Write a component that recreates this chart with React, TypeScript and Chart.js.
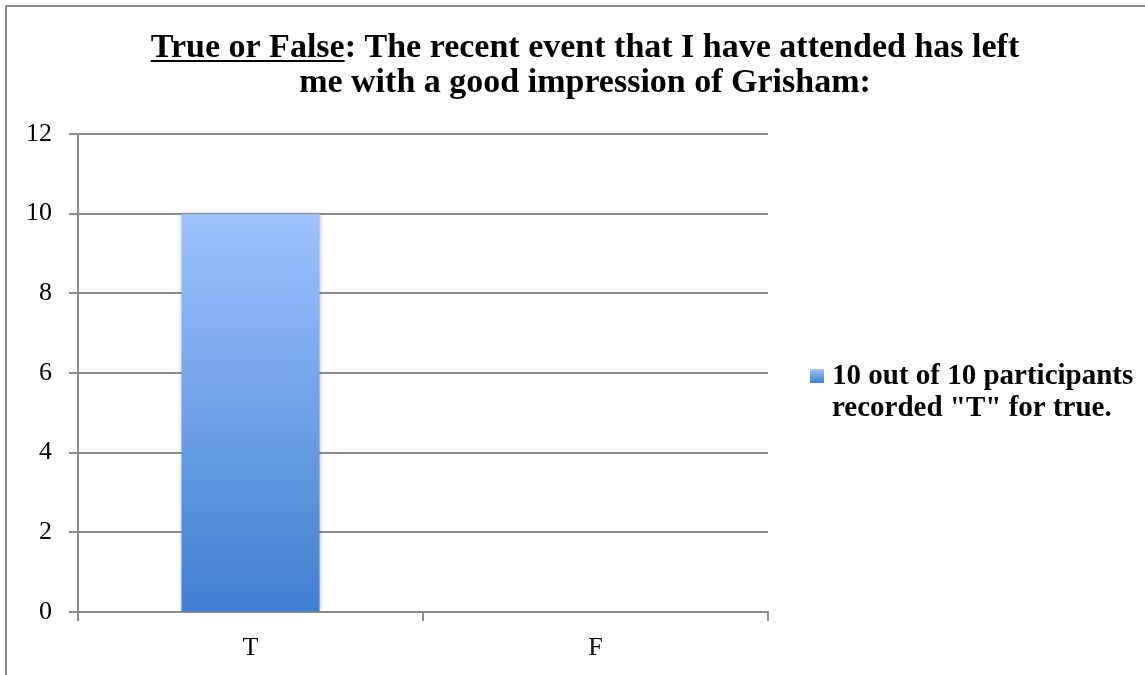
import React, { useEffect, useRef } from 'react';
import { Chart, registerables } from 'chart.js';

Chart.register(...registerables);

// Survey data
const categories = ['T', 'F'];
const responses = [10, 0];
const seriesName = '10 out of 10 participants recorded "T" for true.';
const legendLines = ['10 out of 10 participants', 'recorded "T" for true.'];
const titlePrefix = 'True or False';
const titleLines = [
  'True or False: The recent event that I have attended has left',
  'me with a good impression of Grisham:',
];
const yMin = 0;
const yMax = 12;
const yStep = 2;

const SERIF = '"Liberation Serif", "Times New Roman", serif';
const GRID = '#8c8c8c';
const BAR_TOP = '#9dc3ff';
const BAR_BOTTOM = '#3f7fd0';

const CANVAS_W = 1156;
const CANVAS_H = 696;

function barGradient(ctx: CanvasRenderingContext2D, top: number, bottom: number) {
  const g = ctx.createLinearGradient(0, top, 0, bottom);
  g.addColorStop(0, BAR_TOP);
  g.addColorStop(1, BAR_BOTTOM);
  return g;
}

// Two-line bold title with the "True or False" lead-in underlined
const titlePlugin = {
  id: 'titleBlock',
  afterDraw(chart: any) {
    const ctx: CanvasRenderingContext2D = chart.ctx;
    ctx.save();
    ctx.font = `bold 34px ${SERIF}`;
    ctx.fillStyle = '#000';
    ctx.textBaseline = 'alphabetic';
    ctx.textAlign = 'left';
    const cx = chart.width / 2;
    const baselines = [50, 85];
    titleLines.forEach((line, i) => {
      const w = ctx.measureText(line).width;
      const x = cx - w / 2;
      ctx.fillText(line, x, baselines[i]);
      if (i === 0) {
        const uw = ctx.measureText(titlePrefix).width;
        ctx.fillRect(x, baselines[i] + 3, uw, 2);
      }
    });
    ctx.restore();
  },
};

// Legend on the right: gradient swatch and wrapped bold label
const sideLegendPlugin = {
  id: 'sideLegend',
  afterDraw(chart: any) {
    const ctx: CanvasRenderingContext2D = chart.ctx;
    const area = chart.chartArea;
    const midY = (area.top + area.bottom) / 2;
    const boxX = area.right + 42;
    const boxTop = midY - 4;
    const size = 14;
    ctx.save();
    ctx.fillStyle = barGradient(ctx, boxTop, boxTop + size);
    ctx.fillRect(boxX, boxTop, size, size);
    ctx.font = `bold 29px ${SERIF}`;
    ctx.fillStyle = '#000';
    ctx.textAlign = 'left';
    ctx.textBaseline = 'alphabetic';
    legendLines.forEach((line, i) => {
      ctx.fillText(line, area.right + 64, midY + 11 + i * 32);
    });
    ctx.restore();
  },
};

// Soft shadow around the bars
const barShadowPlugin = {
  id: 'barShadow',
  beforeDatasetsDraw(chart: any) {
    const ctx: CanvasRenderingContext2D = chart.ctx;
    ctx.save();
    ctx.shadowColor = 'rgba(0,0,0,0.35)';
    ctx.shadowBlur = 5;
    ctx.shadowOffsetX = 0;
    ctx.shadowOffsetY = 0;
  },
  afterDatasetsDraw(chart: any) {
    chart.ctx.restore();
  },
};

export default function App() {
  const canvasRef = useRef<HTMLCanvasElement | null>(null);

  useEffect(() => {
    const canvas = canvasRef.current;
    if (!canvas) return;
    Chart.defaults.color = '#000';

    const chart = new Chart(canvas, {
      type: 'bar',
      data: {
        labels: categories,
        datasets: [
          {
            label: seriesName,
            data: responses,
            backgroundColor: (c: any) => {
              const ch = c.chart;
              if (!ch.chartArea || !c.parsed) return BAR_TOP;
              const y = ch.scales.y;
              const top = y.getPixelForValue(c.parsed.y);
              const bottom = y.getPixelForValue(0);
              if (bottom - top < 1) return BAR_BOTTOM;
              return barGradient(ch.ctx, top, bottom);
            },
            borderWidth: 0,
            barPercentage: 0.4,
            categoryPercentage: 1,
          },
        ],
      },
      options: {
        responsive: false,
        animation: false,
        layout: { padding: { top: 127, right: 395, bottom: 31, left: 0 } },
        plugins: {
          legend: { display: false },
          title: { display: false },
          tooltip: { enabled: false },
        },
        scales: {
          x: {
            grid: {
              display: true,
              offset: true,
              drawOnChartArea: false,
              drawTicks: true,
              tickLength: 9,
              color: GRID,
              lineWidth: 2,
            },
            border: { display: true, color: GRID, width: 2 },
            ticks: {
              font: { family: SERIF, size: 26 },
              color: '#000',
              padding: 12,
            },
            afterFit: (s: any) => {
              s.height = 60;
            },
          },
          y: {
            min: yMin,
            max: yMax,
            ticks: {
              stepSize: yStep,
              font: { family: SERIF, size: 26 },
              color: '#000',
              padding: 17,
            },
            grid: {
              color: GRID,
              lineWidth: 2,
              drawTicks: true,
              tickLength: 9,
            },
            border: { display: true, color: GRID, width: 2 },
            afterFit: (s: any) => {
              s.width = 71;
            },
          },
        },
      },
      plugins: [barShadowPlugin, titlePlugin, sideLegendPlugin],
    });

    return () => chart.destroy();
  }, []);

  return (
    <div style={{ position: 'fixed', inset: 0, overflow: 'hidden', background: '#fff' }}>
      <div
        style={{
          position: 'absolute',
          left: 5,
          top: 5,
          width: CANVAS_W + 4,
          height: CANVAS_H + 4,
          border: `2px solid ${GRID}`,
          boxSizing: 'border-box',
        }}
      >
        <canvas ref={canvasRef} width={CANVAS_W} height={CANVAS_H} style={{ display: 'block' }} />
      </div>
    </div>
  );
}
